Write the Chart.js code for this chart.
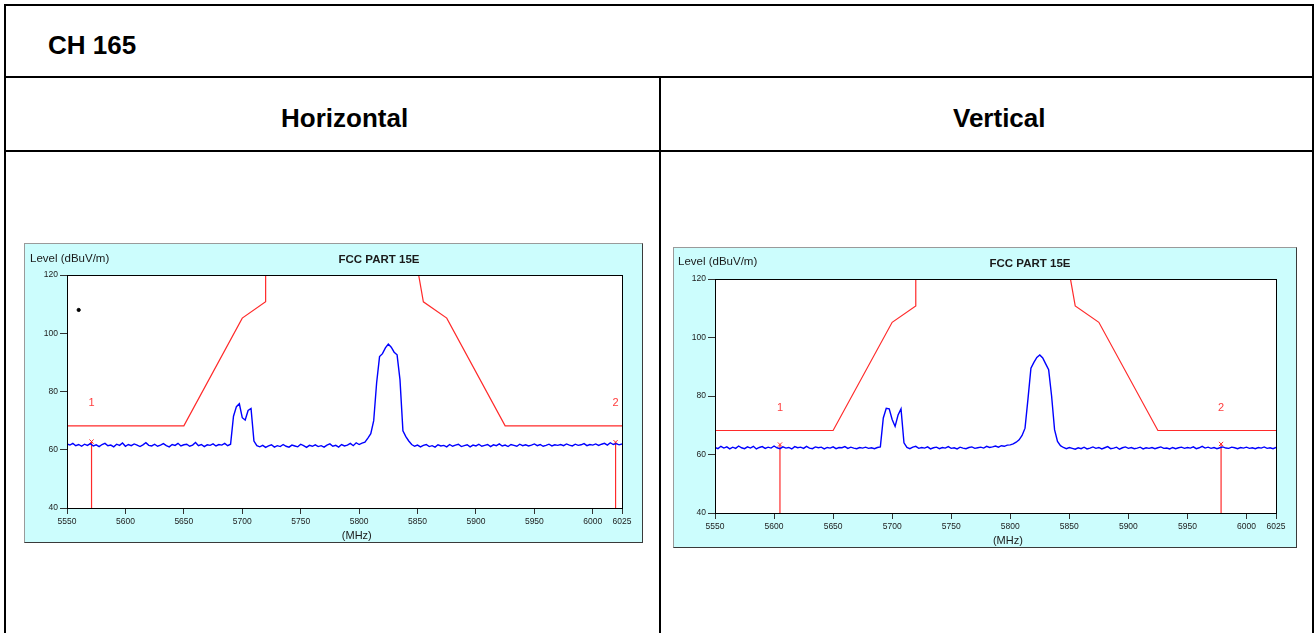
<!DOCTYPE html>
<html>
<head>
<meta charset="utf-8">
<script src="https://cdn.jsdelivr.net/npm/chart.js@4"></script>
<style>
body{margin:0;background:#fff;font-family:"Liberation Sans",Arial,sans-serif;overflow:hidden;}
.ln{position:absolute;background:#000;}
.cap{position:absolute;font-weight:bold;font-size:26px;line-height:1;white-space:nowrap;color:#000;}
.panel{position:absolute;background:#ccfdfd;border:1px solid #9a9a9a;border-right-color:#3a3a3a;border-bottom-color:#3a3a3a;box-sizing:border-box;}
canvas{position:absolute;}
</style>
</head>
<body>
<div class="ln" style="left:4px;top:4px;width:1310px;height:2px"></div>
<div class="ln" style="left:4px;top:4px;width:2px;height:640px"></div>
<div class="ln" style="left:1312px;top:4px;width:2px;height:640px"></div>
<div class="ln" style="left:4px;top:76px;width:1310px;height:2px"></div>
<div class="ln" style="left:4px;top:150px;width:1310px;height:2px"></div>
<div class="ln" style="left:659px;top:76px;width:2px;height:570px"></div>

<div class="cap" style="left:48px;top:32px">CH 165</div>
<div class="cap" style="left:281px;top:105px">Horizontal</div>
<div class="cap" style="left:953px;top:105px">Vertical</div>

<div class="panel" style="left:24px;top:243px;width:619px;height:300px"></div>
<canvas id="chartH" width="619" height="300" style="left:24px;top:243px;width:619px;height:300px"></canvas>
<div class="panel" style="left:673px;top:247px;width:624px;height:301px"></div>
<canvas id="chartV" width="624" height="301" style="left:673px;top:247px;width:624px;height:301px"></canvas>

<script>
// sweep: 5550 - 6025 MHz, one reading every 2.5 MHz
const sweepStart = 5550;
const sweepStep = 2.5;

const xTicks = [5550, 5600, 5650, 5700, 5750, 5800, 5850, 5900, 5950, 6000, 6025];
const yMin = 40, yMax = 120, yStep = 20;

// FCC part 15E mask (dBuV/m)
const limitFreq  = [5550, 5650, 5700, 5720, 5720, 5850, 5855, 5875, 5925, 6025];
const limitLevel = [68.2, 68.2, 105.2, 110.8, 122.2, 122.2, 110.8, 105.2, 68.2, 68.2];

// horizontal polarisation trace
const levelH = [
  62.0, 61.6, 62.2, 61.4, 61.8, 61.2, 61.9, 61.5, 62.1, 61.3,
  61.7, 61.1, 61.8, 62.2, 61.4, 61.6, 61.0, 61.9, 61.5, 62.3,
  61.2, 61.8, 61.4, 62.0, 61.6, 61.1, 61.7, 62.4, 61.5, 61.3,
  61.9, 61.2, 61.6, 62.1, 61.4, 61.0, 61.8, 61.5, 62.2, 61.3,
  61.7, 61.9, 61.2, 61.6, 62.5, 61.4, 61.8, 61.1, 61.7, 61.5,
  62.0, 61.3, 61.8, 61.6, 62.2, 61.4, 61.9,
  71.5, 74.8, 75.8, 71.0, 70.2, 73.5, 74.2, 63.0,
  61.4,
  61.0, 61.5, 60.8, 61.3, 61.7, 60.9, 61.4, 61.1, 61.8, 61.2,
  60.9, 61.6, 61.3, 61.0, 61.9, 61.4, 60.8, 61.5, 61.2, 61.7,
  61.1, 61.4, 60.9, 61.6, 62.0, 61.2, 61.5, 60.9, 61.8, 61.3,
  61.6, 62.2, 61.4, 62.4, 61.8, 62.3,
  62.6, 64.0, 65.5, 70.0, 83.0, 92.0, 93.0, 95.0, 96.3, 95.2,
  93.5, 92.6, 84.0, 66.5, 64.5, 63.0, 61.8,
  61.2, 61.6, 61.0, 61.5, 61.8, 61.1, 61.4, 60.9, 61.7, 61.3,
  61.5, 61.0, 61.8, 61.2, 61.6, 61.9, 61.1, 61.4, 61.7, 61.0,
  61.6, 61.3, 61.9, 61.2, 61.5, 61.8, 61.1, 61.7, 61.4, 62.0,
  61.3, 61.6, 61.1, 61.8, 61.5, 61.2, 61.9, 61.4, 61.7, 61.3,
  61.6, 62.0, 61.4, 61.8, 61.2, 61.5, 61.9, 61.3, 61.7, 61.5,
  61.8, 61.4, 62.0, 61.6, 61.3, 61.9, 61.5, 61.7, 62.1, 61.4,
  61.8, 61.6, 62.0, 61.5, 61.9, 62.2, 61.6, 62.4, 61.8, 62.1, 61.7, 62.0
];

// vertical polarisation trace
const levelV = [
  62.4, 62.0, 62.8, 62.2, 62.6, 61.9, 62.5, 62.1, 62.9, 62.3,
  62.0, 62.6, 62.2, 62.8, 61.9, 62.4, 62.7, 62.1, 62.5, 62.2,
  62.9, 62.3, 62.0, 62.6, 62.2, 62.4, 61.9, 62.7, 62.3, 62.5,
  62.1, 62.8, 62.2, 62.0, 62.6, 62.3, 62.5, 61.9, 62.4, 62.2,
  62.6, 62.0, 62.4, 62.3, 62.7, 62.1, 62.5, 62.2, 62.0, 62.4,
  62.2, 62.5, 62.1, 62.3, 62.0, 62.4, 62.6,
  72.5, 75.8, 75.6, 72.0, 69.6, 73.5, 75.6, 64.0,
  62.4,
  62.0, 62.5, 62.8, 62.1, 62.4, 62.2, 62.6, 61.9, 62.3, 62.5,
  62.0, 62.4, 62.2, 62.7, 62.1, 62.3, 61.9, 62.5, 62.2, 62.0,
  62.4, 62.6, 62.1, 62.3, 62.5, 62.2, 62.8, 62.4, 62.6, 62.9,
  62.5, 63.0, 62.8, 63.2,
  63.3, 63.6, 64.2, 65.0, 66.5, 69.0, 79.0, 89.5, 91.5, 93.2,
  94.0, 93.0, 91.0, 89.0, 80.0, 68.5, 64.5, 63.0, 62.4,
  62.0, 62.4, 62.1, 61.8, 62.3, 62.0, 62.5, 61.9, 62.2, 62.6,
  62.1, 62.4, 61.9, 62.3, 62.7, 62.0, 62.2, 62.5, 61.8, 62.3,
  62.6, 62.1, 62.4, 62.0, 62.2, 62.5, 61.9, 62.3, 62.1, 62.4,
  62.0, 62.3, 62.6, 62.1, 62.2, 61.9, 62.4, 62.0, 62.3, 62.5,
  62.1, 62.4, 62.2, 62.6, 62.0, 62.3, 62.8, 62.2, 62.5, 62.1,
  62.4, 62.0, 62.3, 62.6, 62.2, 62.1, 62.5, 62.3, 62.0, 62.4,
  62.2, 62.5, 62.1, 62.3, 62.0, 62.4, 62.2, 62.6, 62.1, 62.3, 62.0, 62.4
];

// markers
const markerNames = ['1', '2'];
const markerFreqH = [5571, 6019.5];
const markerLevelH = [62.8, 62.6];
const markerFreqV = [5605, 5978.5];
const markerLevelV = [63.4, 63.6];
const markerLabelLevel = 76;

// stray dot on the horizontal plot
const dotH = [{x: 5560, y: 108}];

const FONT = '"Liberation Sans", Arial, sans-serif';

const framePlugin = {
  id: 'frame',
  beforeDatasetsDraw(chart) {
    const a = chart.chartArea, ctx = chart.ctx;
    ctx.save();
    ctx.fillStyle = '#fff';
    ctx.fillRect(a.left, a.top, a.right - a.left, a.bottom - a.top);
    ctx.restore();
  },
  afterDraw(chart, args, o) {
    const a = chart.chartArea, ctx = chart.ctx;
    const xs = chart.scales.x, ys = chart.scales.y;
    ctx.save();
    ctx.strokeStyle = '#000';
    ctx.lineWidth = 1;
    ctx.strokeRect(Math.round(a.left) + 0.5, Math.round(a.top) + 0.5,
                   Math.round(a.right - a.left), Math.round(a.bottom - a.top));
    ctx.fillStyle = '#1a1a1a';
    ctx.textBaseline = 'middle';
    ctx.textAlign = 'left';
    ctx.font = '11.5px ' + FONT;
    ctx.fillText('Level (dBuV/m)', o.levelX, o.levelY);
    ctx.font = 'bold 11.5px ' + FONT;
    ctx.textAlign = 'center';
    ctx.fillText('FCC PART 15E', o.titleX, o.titleY);
    ctx.font = '11px ' + FONT;
    ctx.fillText('(MHz)', xs.getPixelForValue(5798), a.bottom + o.unitDy);
    ctx.fillStyle = '#ff3c3c';
    ctx.font = '11px ' + FONT;
    o.markers.forEach((f, i) => {
      ctx.fillText(markerNames[i], xs.getPixelForValue(f), ys.getPixelForValue(markerLabelLevel));
    });
    ctx.restore();
  }
};

function makeChart(id, levels, mFreq, mLevel, withDot, yWidth, padRight, text) {
  const trace = levels.map((v, i) => ({x: sweepStart + i * sweepStep, y: v}));
  const limit = limitFreq.map((f, i) => ({x: f, y: limitLevel[i]}));
  const datasets = [
    {data: limit, borderColor: '#ff2a2a', borderWidth: 1.2, showLine: true, pointRadius: 0},
    {data: trace, borderColor: '#0000ff', borderWidth: 1.4, showLine: true, pointRadius: 0}
  ];
  mFreq.forEach((f, i) => {
    datasets.push({
      data: [{x: f, y: yMin}, {x: f, y: mLevel[i]}],
      borderColor: '#ff2a2a', borderWidth: 1.2, showLine: true,
      pointRadius: [0, 3], pointStyle: 'crossRot', pointBorderColor: '#ff2a2a', pointBorderWidth: 1
    });
  });
  if (withDot) {
    datasets.push({data: dotH, pointRadius: 1.6, backgroundColor: '#000', borderColor: '#000', showLine: false});
  }
  text.markers = mFreq;
  return new Chart(document.getElementById(id), {
    type: 'scatter',
    data: {datasets: datasets},
    options: {
      responsive: false,
      animation: false,
      layout: {padding: {top: 32, right: padRight, left: 0, bottom: 0}},
      plugins: {legend: {display: false}, tooltip: {enabled: false}, frame: text},
      scales: {
        x: {
          type: 'linear', min: 5550, max: 6025,
          afterBuildTicks: s => { s.ticks = xTicks.map(v => ({value: v})); },
          afterFit: s => { s.height = 35; },
          ticks: {autoSkip: false, maxRotation: 0, padding: 3, color: '#222', font: {size: 8.5, family: FONT}, callback: v => String(v)},
          grid: {drawOnChartArea: false, drawTicks: true, tickLength: 6, color: '#333'},
          border: {display: false}
        },
        y: {
          min: yMin, max: yMax,
          afterFit: s => { s.width = yWidth; },
          ticks: {stepSize: yStep, padding: 2, color: '#222', font: {size: 8.5, family: FONT}},
          grid: {drawOnChartArea: false, drawTicks: true, tickLength: 7, color: '#333'},
          border: {display: false}
        }
      }
    },
    plugins: [framePlugin]
  });
}

makeChart('chartH', levelH, markerFreqH, markerLevelH, true, 43, 21,
  {levelX: 6, levelY: 16, titleX: 355, titleY: 17, unitDy: 27.5});
makeChart('chartV', levelV, markerFreqV, markerLevelV, false, 42, 21,
  {levelX: 5, levelY: 15, titleX: 357, titleY: 17, unitDy: 28});
</script>
</body>
</html>
